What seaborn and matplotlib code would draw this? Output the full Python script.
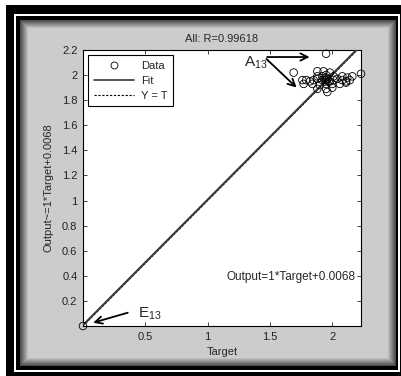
import numpy as np
import pandas as pd
import matplotlib
matplotlib.use("Agg")
import matplotlib.pyplot as plt
from matplotlib.patches import Rectangle
from matplotlib.lines import Line2D
import seaborn as sns

# data
target = [0.00, 1.95, 1.69, 2.23,
          1.76, 1.79, 1.82, 1.85, 1.88, 1.92, 1.95, 1.98, 2.01, 2.04, 2.08, 2.11, 2.14,
          1.88, 1.92, 1.95, 2.01, 2.08, 2.12, 2.16,
          1.77, 1.84, 1.90, 1.95, 2.00, 2.06, 2.11,
          1.88, 1.93, 1.98,
          1.88, 1.95, 2.00,
          1.96,
          1.94, 1.96, 1.97, 1.95]
output = [0.00, 2.17, 2.02, 2.01,
          1.96, 1.96, 1.95, 1.96, 1.97, 1.96, 1.96, 1.95, 1.96, 1.97, 1.96, 1.95, 1.96,
          1.99, 1.99, 2.00, 1.99, 1.99, 1.98, 1.99,
          1.93, 1.93, 1.92, 1.93, 1.93, 1.93, 1.94,
          2.03, 2.03, 2.02,
          1.89, 1.89, 1.90,
          1.865,
          1.96, 1.97, 1.95, 1.98]
fit_slope, fit_icpt = 1.0, 0.0068
line_x = [0.0, 2.23]

df = pd.DataFrame({"Target": target, "Output": output})
fit_df = pd.DataFrame({"Target": line_x, "Output": [fit_slope * v + fit_icpt for v in line_x]})
yt_df = pd.DataFrame({"Target": line_x, "Output": line_x})

sns.set_style("ticks")
plt.rcParams["font.family"] = ["Liberation Sans", "DejaVu Sans"]
plt.rcParams["mathtext.fontset"] = "custom"
plt.rcParams["mathtext.rm"] = "Liberation Sans"
plt.rcParams["mathtext.it"] = "Liberation Sans"

W, H = 402, 376
fig = plt.figure(figsize=(W / 100, H / 100), dpi=100)
fig.patch.set_facecolor("white")


def frame_rect(x0, y0, x1, y1, color):
    # pixel coords measured from top-left
    fig.add_artist(Rectangle((x0 / W, 1 - y1 / H), (x1 - x0) / W, (y1 - y0) / H,
                             transform=fig.transFigure, facecolor=color,
                             edgecolor="none", zorder=-10))


frame_rect(6, 5, 402, 376, "black")
frame_rect(14, 14, 400, 372, "white")
frame_rect(16, 16, 398, 370, "black")
for i in range(9):
    g = 0.30 + (0.80 - 0.30) * i / 8
    frame_rect(20 + i, 20 + i, 396 - i, 366 - i, (g, g, g))

ax = fig.add_axes([83 / W, 1 - 326 / H, 278 / W, 276 / H])
ax.set_facecolor("white")

sns.lineplot(data=yt_df, x="Target", y="Output", ax=ax, color="black",
             linestyle=(0, (2, 1.5)), linewidth=0.8, zorder=2)
sns.lineplot(data=fit_df, x="Target", y="Output", ax=ax, color="#383838",
             linewidth=1.5, zorder=3)
sns.scatterplot(data=df, x="Target", y="Output", ax=ax, marker="o",
                facecolor="none", edgecolor="black", linewidth=0.6, s=30,
                zorder=4, clip_on=False)

ax.set_xlim(0, 2.23)
ax.set_ylim(0, 2.2)
ax.set_xticks([0.5, 1, 1.5, 2])
ax.set_xticklabels(["0.5", "1", "1.5", "2"])
ax.set_yticks([0.2, 0.4, 0.6, 0.8, 1.0, 1.2, 1.4, 1.6, 1.8, 2.0, 2.2])
ax.set_yticklabels(["0.2", "0.4", "0.6", "0.8", "1", "1.2", "1.4", "1.6", "1.8", "2", "2.2"])
ax.tick_params(direction="in", length=3, width=0.6, labelsize=8, colors="#222222",
               top=True, right=True, pad=4)
for sp in ax.spines.values():
    sp.set_visible(True)
    sp.set_linewidth(0.8)
    sp.set_color("black")

ax.set_title("All: R=0.99618", fontsize=8, pad=6)
ax.set_xlabel("Target", fontsize=8, labelpad=4)
ax.set_ylabel("Output~=1*Target+0.0068", fontsize=8, labelpad=6)

handles = [Line2D([], [], marker="o", color="black", markerfacecolor="none",
                  linestyle="none", markersize=5, markeredgewidth=0.6),
           Line2D([], [], color="#383838", linewidth=1.2),
           Line2D([], [], color="black", linestyle=(0, (2, 1.5)), linewidth=0.8)]
leg = ax.legend(handles, ["Data", "Fit", "Y = T"], loc="upper left", fontsize=8,
                frameon=True, fancybox=False, edgecolor="black", framealpha=1,
                handlelength=3.6, borderaxespad=0.45, labelspacing=0.45,
                handletextpad=0.7, borderpad=0.5)
leg.get_frame().set_linewidth(0.8)

ax.text(1.155, 0.39, "Output=1*Target+0.0068", fontsize=8.5, va="center", ha="left")

arrow = dict(arrowstyle="->", lw=1.3, color="black", mutation_scale=13)
ax.text(1.29, 2.10, r"$\mathregular{A_{13}}$", fontsize=11, ha="left", va="center")
ax.annotate("", xy=(1.84, 2.144), xytext=(1.455, 2.144), arrowprops=arrow)
ax.annotate("", xy=(1.73, 1.885), xytext=(1.455, 2.144), arrowprops=arrow)
ax.text(0.44, 0.10, r"$\mathregular{E_{13}}$", fontsize=11, ha="left", va="center")
ax.annotate("", xy=(0.06, 0.02), xytext=(0.38, 0.112), arrowprops=arrow)

fig.savefig("out.png", dpi=100)
